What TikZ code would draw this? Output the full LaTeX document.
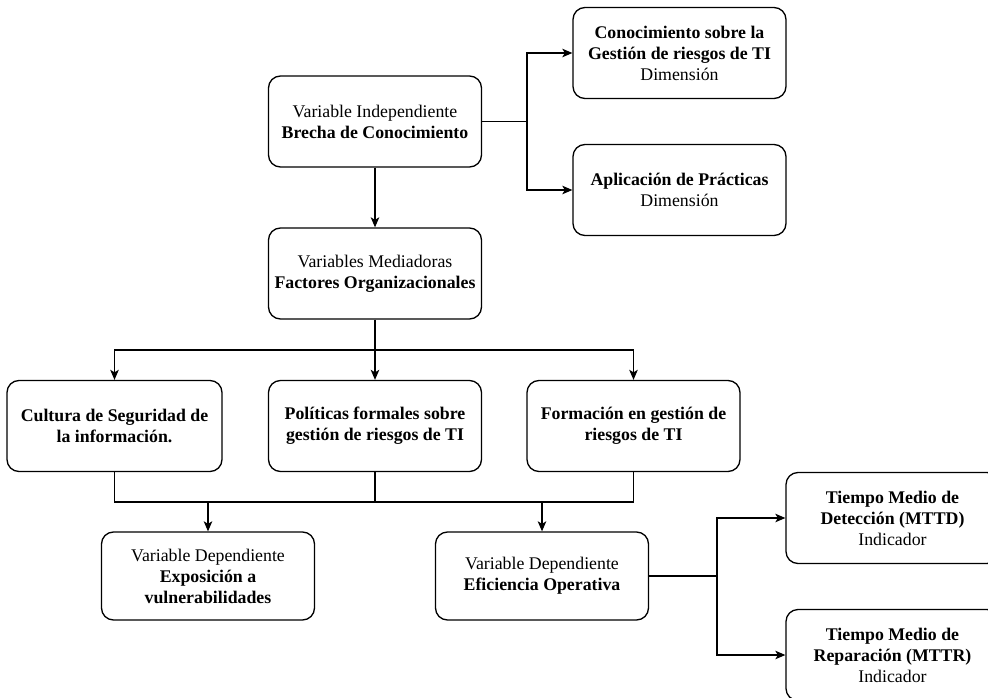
\documentclass[tikz,border=0pt]{standalone}
\usepackage{fontspec}
\setmainfont{Liberation Serif}
\usetikzlibrary{arrows.meta}
\tikzset{
  box/.style={draw=black, rounded corners=12pt, line width=1.3pt, fill=white,
    minimum width=213pt, minimum height=91pt, inner sep=0pt, align=center,
    font=\fontsize{17.8}{21}\selectfont},
  conn/.style={draw=black, line width=1.3pt},
  arr/.style={conn, -{Stealth[length=10pt,width=8.5pt,inset=2.5pt]}}
}
\begin{document}
\begin{tikzpicture}[x=1pt,y=-1pt]
\fill[white] (0,0) rectangle (988,698);
\clip (0,0) rectangle (988,698);
\node[box] (A) at (375,121.5) {Variable Independiente\\\textbf{Brecha de Conocimiento}};
\node[box] (B) at (375,273.5) {Variables Mediadoras\\\textbf{Factores Organizacionales}};
\node[box] (C) at (679.5,53) {\textbf{Conocimiento sobre la}\\\textbf{Gestión de riesgos de TI}\\Dimensión};
\node[box] (D) at (679.5,190) {\textbf{Aplicación de Prácticas}\\Dimensión};
\node[box, minimum width=215pt] (R1) at (114.5,426) {\textbf{Cultura de Seguridad de}\\\textbf{la información.}};
\node[box] (R2) at (375,426) {\textbf{Políticas formales sobre}\\\textbf{gestión de riesgos de TI}};
\node[box] (R3) at (633.5,426) {\textbf{Formación en gestión de}\\\textbf{riesgos de TI}};
\node[box, minimum height=88pt] (E) at (208,576) {Variable Dependiente\\\textbf{Exposición a}\\\textbf{vulnerabilidades}};
\node[box, minimum height=88pt] (F) at (542,576) {Variable Dependiente\\\textbf{Eficiencia Operativa}};
\node[box] (G) at (892.5,518) {\textbf{Tiempo Medio de}\\\textbf{Detección (MTTD)}\\Indicador};
\node[box] (H) at (892.5,655) {\textbf{Tiempo Medio de}\\\textbf{Reparación (MTTR)}\\Indicador};
\coordinate (jA) at (527,121.5);
\coordinate (jB) at (375,350);
\coordinate (m) at (375,502);
\coordinate (jF) at (717,576);
\draw[arr] (A) -- (B);
\draw[arr] (A.east) -- (jA) |- (C.west);
\draw[arr] (jA) |- (D.west);
\draw[conn] (B.south) -- (jB);
\draw[arr] (jB) -| (R1.north);
\draw[arr] (jB) -- (R2.north);
\draw[arr] (jB) -| (R3.north);
\draw[conn] (R1.south) -- (R1.south |- m) -- (R3.south |- m) -- (R3.south);
\draw[conn] (R2.south) -- (m);
\draw[arr] (E.north |- m) -- (E.north);
\draw[arr] (F.north |- m) -- (F.north);
\draw[arr] (F.east) -- (jF) |- (G.west);
\draw[arr] (jF) |- (H.west);
\end{tikzpicture}
\end{document}
